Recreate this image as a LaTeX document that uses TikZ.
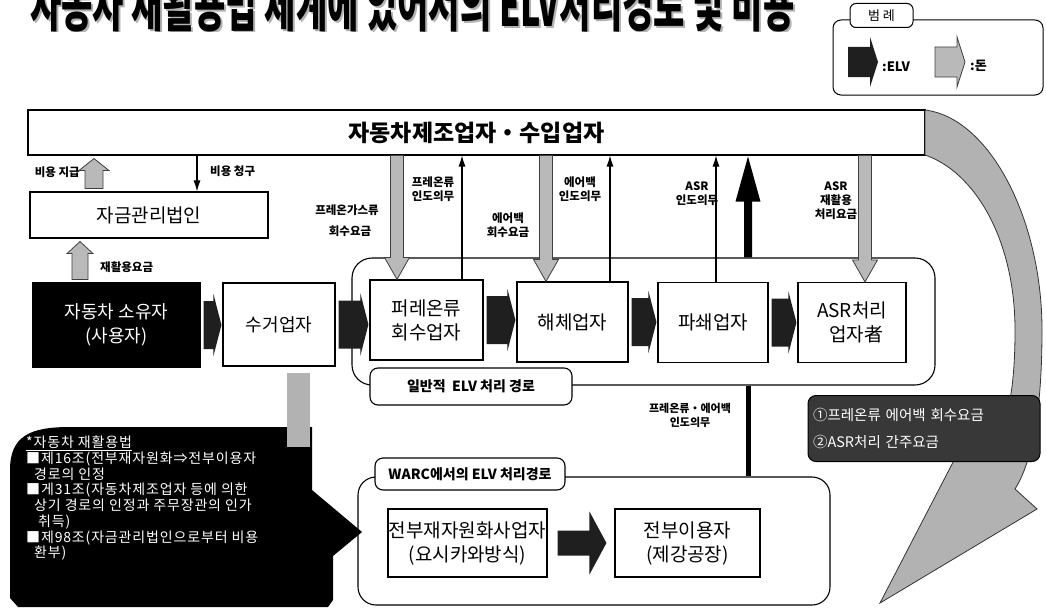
\documentclass[tikz,border=0pt]{standalone}
\usepackage{fontspec}
\setmainfont{Noto Sans CJK KR}
\newfontfamily\lawfont{Noto Sans CJK KR}[LetterSpace=6]
\usetikzlibrary{calc,arrows.meta}
\tikzset{
 box/.style={draw, line width=1.1pt, fill=white, align=center, inner sep=0pt, font=\fontsize{19}{24}\selectfont},
 lbl/.style={font=\fontsize{11.5}{14}\selectfont\bfseries, align=center, inner sep=0pt},
 tag/.style={draw, line width=1.1pt, fill=white, rounded corners=8, inner sep=0pt, font=\fontsize{14}{16}\selectfont\bfseries},
 garrow/.style={fill=gray!55, draw=black!75, line width=0.8pt},
 barrow/.style={fill=black!88},
 thinarrow/.style={line width=1.1pt, -{Latex[length=11pt,width=7pt]}},
 titletext/.style={anchor=base west, inner sep=0pt, font=\fontsize{34}{34}\selectfont\bfseries},
}
\newcommand\gdown[3]{\path[garrow] let \p1=(#2.south -| #1), \p2=(#3.north -| #1) in
 (\x1-6.5pt,\y1) -- (\x1+6.5pt,\y1) -- (\x1+6.5pt,\y2+22pt) -- (\x1+12.5pt,\y2+22pt) -- (\x2,\y2) -- (\x1-12.5pt,\y2+22pt) -- (\x1-6.5pt,\y2+22pt) -- cycle;}
\newcommand\gup[6]{\path[garrow] let \p1=(#2.north -| #1), \p2=(#3.south -| #1) in
 (\x1-#4pt,\y1+3pt) -- (\x1-#4pt,\y2-3pt-#6pt) -- (\x1-#5pt,\y2-3pt-#6pt) -- (\x2,\y2-3pt) -- (\x1+#5pt,\y2-3pt-#6pt) -- (\x1+#4pt,\y2-3pt-#6pt) -- (\x1+#4pt,\y1+3pt) -- cycle;}
\newcommand\harr[2]{\path[barrow] let \p1=(#1.east), \p2=(#2.west) in
 (\x1+3pt,\y1+24pt) -- (\x2-9pt,\y1+24pt) -- (\x2-9pt,\y1+31pt) -- (\x2-1pt,\y1) -- (\x2-9pt,\y1-31pt) -- (\x2-9pt,\y1-24pt) -- (\x1+3pt,\y1-24pt) -- cycle;}
\newcommand\titlestr{자동차 재활용법 체계에 있어서의 ELV처리경로 및 비용}
\begin{document}
\begin{tikzpicture}[x=1pt,y=-1pt]
\useasboundingbox (0,0) rectangle (1046,610);
% title (cut off at the top)
\begin{scope}
\clip (0,0) rectangle (1046,32);
\node[titletext, text=gray!60] (titleshadow) at (32,29) {\scalebox{1}[1.7]{\titlestr}};
\node[titletext] (title) at (30,27) {\scalebox{1}[1.7]{\titlestr}};
\end{scope}
% legend
\node[draw, rounded corners=8, line width=1pt, minimum width=210, minimum height=75] (leg) at (938,57.5) {};
\node[draw, rounded corners=6, fill=white, line width=1pt, minimum width=63, minimum height=24, font=\fontsize{13}{15}\selectfont] (legt) at (881.5,15.5) {범 례};
\fill[black!88] (848,47) -- (870,47) -- (870,37) -- (878,62) -- (870,87) -- (870,77) -- (848,77) -- cycle;
\node[anchor=west, inner sep=0pt, font=\fontsize{13}{15}\selectfont\bfseries] (legelv) at (882,67) {:ELV};
\path[garrow] (935,47) -- (957,47) -- (957,37) -- (965,62) -- (957,87) -- (957,77) -- (935,77) -- cycle;
\node[anchor=west, inner sep=0pt, font=\fontsize{13}{15}\selectfont\bfseries] (legdon) at (970,66) {:돈};
% x positions
\coordinate (xa) at (397,0);
\coordinate (xb) at (462,0);
\coordinate (xc) at (546,0);
\coordinate (xd) at (610,0);
\coordinate (xe) at (716,0);
\coordinate (xf) at (748,0);
\coordinate (xg) at (865,0);
\coordinate (xh) at (94,0);
\coordinate (xi) at (197,0);
\coordinate (xj) at (80,0);
% top bar
\node[box, minimum width=897, minimum height=45, font=\fontsize{23}{27}\selectfont\bfseries] (top) at (476.5,132.5) {자동차제조업자・수입업자};
% big curved grey arrow
\path[fill=gray!60, draw=black!80, line width=0.8pt]
 (925,110) .. controls (990,118) and (1042,220) .. (1042,330)
 .. controls (1042,420) and (1030,465) .. (1015,489)
 -- (1037,509) -- (880,603) -- (964,441) -- (985,461)
 .. controls (1008,430) and (1015,390) .. (1015,330)
 .. controls (1015,240) and (975,172) .. (925,155) -- cycle;
% fund
\node[box, minimum width=238, minimum height=46] (fund) at (149,215) {자금관리법인};
\node[box, fill=black, text=white, minimum width=167, minimum height=84, font=\fontsize{18}{24}\selectfont] (owner) at (116.5,325) {자동차 소유자\\(사용자)};
\node[box, minimum width=112, minimum height=83, font=\fontsize{18}{24}\selectfont] (coll) at (279,324.5) {수거업자};
% general route container
\node[draw, line width=1.1pt, rounded corners=20, minimum width=583, minimum height=127] (gen) at (643.5,321.5) {};
\node[tag, minimum width=202, minimum height=37] (genlbl) at (471,386.5) {일반적 \ ELV 처리 경로};
\node[box, minimum width=113, minimum height=80] (freon) at (426.5,320) {퍼레온류\\회수업자};
\node[box, minimum width=111, minimum height=80] (dism) at (572.5,322) {해체업자};
\node[box, minimum width=110, minimum height=80] (shred) at (713,322.5) {파쇄업자};
\node[box, minimum width=108, minimum height=80] (asr) at (852,322.5) {ASR처리\\\ \ 업자者};
% money/ELV arrows between top bar and fund
\gup{xh}{fund}{top}{9}{15}{12}
\draw[thinarrow] (top.south -| xi) -- (fund.north -| xi);
\node[lbl, anchor=east] (l1) at (80,172) {비용 지급};
\node[lbl, anchor=west] (l2) at (210,171) {비용 청구};
\gup{xj}{owner}{fund}{8}{13}{12}
\node[lbl, anchor=west] (l3) at (100,267) {재활용요금};
% arrows to manufacturers
\gdown{xa}{top}{freon}
\draw[thinarrow] (freon.north -| xb) -- (top.south -| xb);
\gdown{xc}{top}{dism}
\draw[thinarrow] (dism.north -| xd) -- (top.south -| xd);
\draw[thinarrow] (shred.north -| xe) -- (top.south -| xe);
\gdown{xg}{top}{asr}
\path[fill=black] let \p1=(gen.north -| xf), \p2=(top.south -| xf) in
 (\x1-4pt,\y1) -- (\x1-4pt,\y2-46pt) -- (\x1-12.5pt,\y2-46pt) -- (\x2,\y2-1pt) -- (\x1+12.5pt,\y2-46pt) -- (\x1+4pt,\y2-46pt) -- (\x1+4pt,\y1) -- cycle;
\node[lbl] (l4) at (347,210) {프레온가스류};
\node[lbl] (l5) at (350,231) {회수요금};
\node[lbl] (l6) at (433,189) {프레온류\\인도의무};
\node[lbl] (l7) at (508,225) {에어백\\회수요금};
\node[lbl] (l8) at (580,189) {에어백\\인도의무};
\node[lbl] (l9) at (697,194) {ASR\\인도의무};
\node[lbl] (l10) at (836,201) {ASR\\재활용\\처리요금};
% ELV flow arrows
\harr{owner}{coll}
\harr{coll}{freon}
\harr{freon}{dism}
\harr{dism}{shred}
\harr{shred}{asr}
% WARC route
\node[draw, line width=1.1pt, rounded corners=18, minimum width=472, minimum height=128] (warc) at (594,541) {};
\node[tag, minimum width=190, minimum height=32] (warclbl) at (470,474) {WARC에서의 ELV 처리경로};
\node[box, minimum width=159, minimum height=68] (yosh) at (467.5,543) {전부재자원화사업자\\(요시카와방식)};
\node[box, minimum width=145, minimum height=68] (steel) at (687.5,543) {전부이용자\\(제강공장)};
\path[barrow] let \p1=(yosh.east), \p2=(steel.west) in
 (\x1+10pt,\y1+12.5pt) -- (\x2-25pt,\y1+12.5pt) -- (\x2-25pt,\y1+31.5pt) -- (\x2-8pt,\y1) -- (\x2-25pt,\y1-31.5pt) -- (\x2-25pt,\y1-12.5pt) -- (\x1+10pt,\y1-12.5pt) -- cycle;
\draw[line width=5pt] (gen.south -| xf) -- (warc.north -| xf);
\node[lbl, font=\fontsize{11}{14}\selectfont\bfseries] (l11) at (690,415) {프레온류・에어백\\인도의무};
% fee box
\node[fill=black!78, draw=black, line width=1pt, rounded corners=8, text=white, text width=222, minimum height=66, inner sep=5pt, align=left, font=\fontsize{14.5}{27}\selectfont] (fee) at (924,428.5) {①프레온류 에어백 회수요금\\②ASR처리 간주요금};
% law callout
\fill[black] (10,470) .. controls (10,436) and (30,427) .. (70,427) -- (312,427) -- (312,490) -- (362,532) -- (333,556) -- (333,600) -- (328,607) -- (18,607) -- (10,598) -- cycle;
\path[fill=gray!60] let \p1=(coll.south) in (\x1+8pt,\y1-6pt) rectangle (\x1+31pt,-447pt);
\node[anchor=north west, text=white, align=left, inner sep=0pt, font=\lawfont\fontsize{14}{15.7}\selectfont] (law) at (26,436) {\underline{*자동차 재활용법}\\■제16조(전부재자원화⇒전부이용자\\\hspace*{8pt}경로의 인정\\■게31조(자동차제조업자 등에 의한\\\hspace*{8pt}상기 경로의 인정과 주무장관의 인가\\\hspace*{12pt}취득)\\■제98조(자금관리법인으로부터 비용\\\hspace*{8pt}환부)};
\end{tikzpicture}
\end{document}
